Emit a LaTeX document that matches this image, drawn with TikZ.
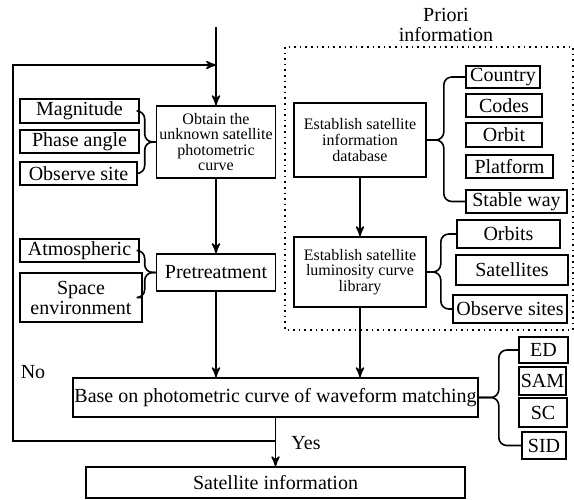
\documentclass[tikz,border=0pt]{standalone}
\usepackage{fontspec}
\setmainfont{Liberation Serif}
\usetikzlibrary{arrows}

\begin{document}
\begin{tikzpicture}[x=0.5pt,y=-0.5pt,>=stealth',line width=0.8pt,
        item/.style={draw,inner sep=0pt,align=center,font=\fontsize{10}{10}\selectfont},
        task/.style={draw,inner sep=0pt,align=center,font=\fontsize{8}{7.8}\selectfont},
        label/.style={inner sep=0pt,align=center,font=\fontsize{10}{10}\selectfont},
        brace/.style={rounded corners=4pt}]
        \useasboundingbox (0,0) rectangle (574,499);

        % main column
        \node[task,minimum width=59.5pt,minimum height=36pt] (obtain) at (216,142) {Obtain the\\unknown satellite\\photometric\\curve};
        \node[item,minimum width=59.5pt,minimum height=18.5pt] (pre) at (216,272.5) {Pretreatment};
        \node[item,minimum width=202.5pt,minimum height=19.5pt] (base) at (275.5,397.5) {Base on photometric curve of waveform matching};
        \node[item,minimum width=189.5pt,minimum height=15.5pt] (info) at (275.5,482.5) {Satellite information};

        % conditions
        \node[item,minimum width=59.5pt,minimum height=12pt] (mag) at (79.5,111) {Magnitude};
        \node[item,minimum width=59.5pt,minimum height=11.5pt] (phase) at (79.5,141.5) {Phase angle};
        \node[item,minimum width=58.5pt,minimum height=11.5pt] (obs) at (78.5,173.5) {Observe site};
        \node[item,minimum width=59.5pt,minimum height=11.5pt] (atm) at (79.5,250.5) {Atmospheric};
        \node[item,minimum width=61pt,minimum height=24.5pt] (space) at (81,297.5) {Space\\environment};

        % priori information
        \draw[dotted] (285,47) rectangle (573,330);
        \node[label] (priori) at (446,25) {Priori\\information};
        \node[task,minimum width=66pt,minimum height=37pt] (db) at (360,140) {Establish satellite\\information\\database};
        \node[task,minimum width=66pt,minimum height=35pt] (lib) at (360,272) {Establish satellite\\luminosity curve\\library};
        \node[item,minimum width=37pt,minimum height=11pt] (country) at (503,77) {Country};
        \node[item,minimum width=38pt,minimum height=11.5pt] (codes) at (504,105.5) {Codes};
        \node[item,minimum width=38pt,minimum height=12pt] (orbit) at (504,135) {Orbit};
        \node[item,minimum width=43.5pt,minimum height=11.5pt] (platform) at (509.5,166.5) {Platform};
        \node[item,minimum width=50.5pt,minimum height=11.5pt] (stable) at (516.5,201.5) {Stable way};
        \node[item,minimum width=51.5pt,minimum height=14pt] (orbits) at (508.5,234) {Orbits};
        \node[item,minimum width=56pt,minimum height=15pt] (sats) at (512,270) {Satellites};
        \node[item,minimum width=57pt,minimum height=14pt] (obssites) at (510,309) {Observe sites};

        % matching methods
        \node[item,minimum width=24.5pt,minimum height=13pt] (ed) at (543.5,350) {ED};
        \node[item,minimum width=23.5pt,minimum height=14pt] (sam) at (542.5,381) {SAM};
        \node[item,minimum width=24pt,minimum height=14.5pt] (sc) at (543,412.5) {SC};
        \node[item,minimum width=22pt,minimum height=13.5pt] (sid) at (544,445.5) {SID};

        \node[label] (no) at (33,372) {No};
        \node[label] (yes) at (306,443) {Yes};

        \coordinate (top) at (216,27);
        \coordinate (join) at (216,65);
        \coordinate (loop) at (13,65);
        \coordinate (split) at (275.5,441);

        % arrows
        \draw[->] (top) -- (obtain);
        \draw[->] (obtain) -- (pre);
        \draw[->] (pre) -- (pre |- base.north);
        \draw[->] (db) -- (lib);
        \draw[->] (lib) -- (lib |- base.north);
        \draw[->] (base) -- (info);
        \draw[->] (split) -| (loop) -- (join);

        % braces
        \draw[brace] (obtain.west) -- ++(-5.5pt,0) |- (mag.east);
        \draw[brace] (obtain.west) -- ++(-5.5pt,0) |- (obs.east);
        \draw[brace] (pre.west) -- ++(-5.5pt,0) |- (atm.east);
        \draw[brace] (pre.west) -- ++(-5.5pt,0) |- (space.east);
        \draw[brace] (db.east) -- ++(8.5pt,0) |- (country.west);
        \draw[brace] (db.east) -- ++(8.5pt,0) |- (stable.west);
        \draw[brace] (lib.east) -- ++(7pt,0) |- (orbits.west);
        \draw[brace] (lib.east) -- ++(7pt,0) |- (obssites.west);
        \draw[brace] (base.east) -- ++(10pt,0) |- (ed.west);
        \draw[brace] (base.east) -- ++(10pt,0) |- (sid.west);
\end{tikzpicture}
\end{document}
